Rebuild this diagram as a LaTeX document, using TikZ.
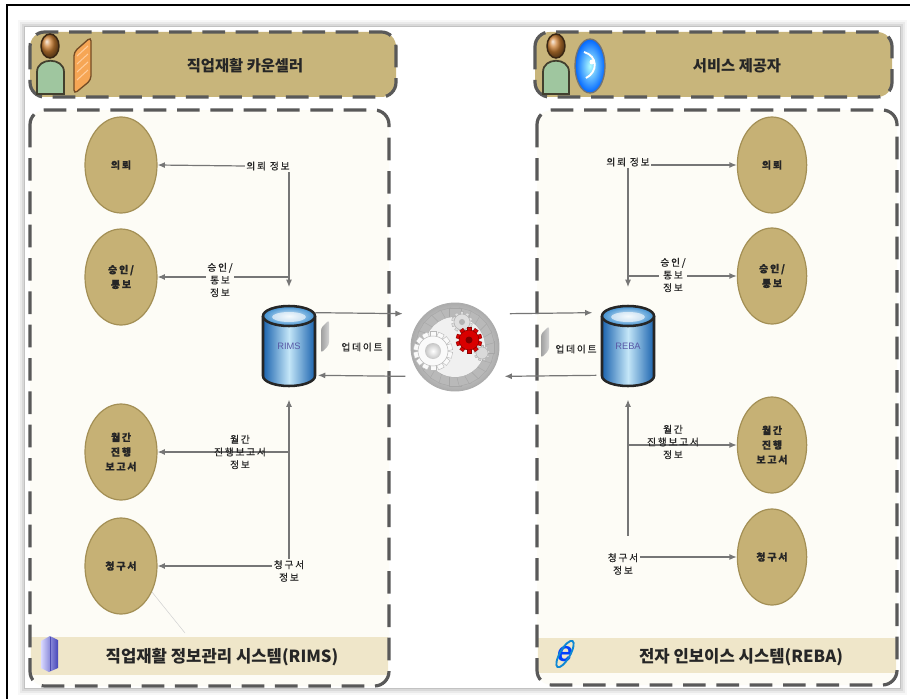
\documentclass[tikz,border=0pt]{standalone}
\usepackage{fontspec}
\setmainfont{Noto Sans CJK KR}
\newfontfamily\labfont{Noto Sans CJK KR}[LetterSpace=18, FakeBold=0.6]
\newfontfamily\latinfont{Liberation Sans}
\usetikzlibrary{shapes.geometric,arrows.meta,calc}

\definecolor{hdrtan}{HTML}{C8B57B}
\definecolor{elltan}{HTML}{C6B175}
\definecolor{ellline}{HTML}{A38F55}
\definecolor{footband}{HTML}{EFE6C9}
\definecolor{bodybg}{HTML}{FDFCF6}
\definecolor{dashgray}{HTML}{595959}
\definecolor{conngray}{HTML}{767676}
\definecolor{cyldark}{HTML}{1A63AE}
\definecolor{cyllight}{HTML}{C4E6F8}
\definecolor{cyltop}{HTML}{E4F3FB}
\definecolor{cylrim}{HTML}{3F8FD0}

% toothed wheel: centre x, centre y, radius, teeth, fill, outline
\newcommand\drawgear[6]{%
  \foreach \t in {1,...,#4}{%
    \fill[#5, draw=#6, line width=0.3pt, rotate around={\t*360/#4:(#1,#2)}]
      (#1-0.2*#3,#2-1.3*#3) rectangle (#1+0.2*#3,#2-#3+1);}
  \fill[#5, draw=#6, line width=0.4pt] (#1,#2) circle (#3);
}

% database drum: centre x, centre y
\newcommand\drawdrum[2]{%
  \shade[left color=cyldark, right color=cyldark, middle color=cyllight]
    (#1-26,#2-30) -- (#1-26,#2+30) arc[start angle=180,end angle=0,x radius=26,y radius=10]
    -- (#1+26,#2-30) arc[start angle=0,end angle=180,x radius=26,y radius=10] -- cycle;
  \draw[black!85, line width=1.9pt]
    (#1-26,#2-30) -- (#1-26,#2+30) arc[start angle=180,end angle=0,x radius=26,y radius=10]
    -- (#1+26,#2-30);
  \shade[inner color=cyltop, outer color=cylrim] (#1,#2-30) ellipse[x radius=26,y radius=10];
  \fill[white, opacity=0.6] (#1,#2-29) ellipse[x radius=17,y radius=5];
  \draw[black!85, line width=1.9pt] (#1,#2-30) ellipse[x radius=26,y radius=10];
}

\begin{document}
\begin{tikzpicture}[x=0.75pt,y=-0.75pt,
  panel/.style={draw=dashgray, line width=2.4pt, dash pattern=on 17pt off 8pt, rounded corners=11pt},
  ell/.style={ellipse, fill=elltan, draw=ellline, line width=0.9pt, minimum width=54pt,
    minimum height=72pt, inner sep=0pt, align=center,
    font=\labfont\fontsize{7.5}{11}\selectfont\bfseries, text=black!85},
  lab/.style={align=center, inner sep=1pt, font=\labfont\fontsize{7.3}{9.5}\selectfont, text=black!85},
  conn/.style={draw=conngray, line width=0.9pt, -{Latex[length=5.5pt,width=4.5pt]}},
  hdr/.style={font=\fontsize{11.5}{13}\selectfont\bfseries, text=black!85},
  ftr/.style={font=\fontsize{12.5}{14}\selectfont\bfseries, text=black!85},
  drum/.style={minimum width=39pt, minimum height=60pt, inner sep=0pt,
    font=\latinfont\fontsize{7}{8}\selectfont, text=gray!70!blue}
]
\useasboundingbox (0,0) rectangle (910,699);
\fill[white] (0,0) rectangle (910,699);

% sheet with a soft edge
\foreach \k/\op in {7/0.03,5/0.05,3/0.07,1/0.1}
  \fill[black, opacity=\op] (25-\k,27-\k) rectangle (900+\k,688+\k);
\fill[white] (25,27) rectangle (900,688);
\draw[black, line width=2.2pt] (7,699) -- (7,5) -- (910,5);

% system panels
\fill[bodybg, rounded corners=11pt] (30,110) rectangle (389,686);
\fill[footband] (31,637) rectangle (388,675);
\draw[panel] (30,110) rectangle (389,686);
\fill[bodybg, rounded corners=11pt] (537,110) rectangle (897,685);
\fill[footband] (538,638) rectangle (896,673);
\draw[panel] (537,110) rectangle (897,685);

% actor headers
\draw[panel, fill=hdrtan] (30,32) rectangle (396,97);
\draw[panel, fill=hdrtan] (535,32) rectangle (892,97);
\node[hdr] (ht1) at (245,66) {직업재활 카운셀러};
\node[hdr] (ht2) at (737,66) {서비스 제공자};
\node[ftr] (ft1) at (222,657) {직업재활 정보관리 시스템(RIMS)};
\node[ftr] (ft2) at (741,657) {전자 인보이스 시스템(REBA)};

% counsellor figure and folder
\fill[green!25!gray!60, draw=black!70!olive, line width=1.3pt]
  (37,94) -- (37,72) .. controls (37,57) and (64,57) .. (64,72) -- (64,94) -- cycle;
\draw[black!70!brown, line width=1.1pt, ball color=brown!80!orange] (50,46) ellipse[x radius=9,y radius=12];
\fill[orange!80!brown!70, draw=brown!60!black, line width=1pt, rounded corners=3pt]
  (74,94) -- (74,52) -- (91,37) -- (91,80) -- cycle;
\foreach \s in {50,58,66,74}
  \draw[orange!40, line width=0.8pt] (77,\s+6) -- (88,\s-4);

% provider figure and globe
\fill[green!25!gray!60, draw=black!70!olive, line width=1.3pt]
  (543,94) -- (543,72) .. controls (543,57) and (569,57) .. (569,72) -- (569,94) -- cycle;
\draw[black!70!brown, line width=1.1pt, ball color=brown!80!orange] (556,46) ellipse[x radius=9,y radius=12];
\shade[inner color=cyan!30!white, outer color=blue!60!cyan] (590,66) ellipse[x radius=15,y radius=27];
\draw[black!55, line width=1pt] (590,66) ellipse[x radius=15,y radius=27];
\draw[white, line width=1.4pt] (584,52) .. controls (598,56) and (598,72) .. (586,78);
\fill[white] (592,62) circle (2.5);

% footer icons
\shade[left color=blue!15, right color=blue!45!gray] (41,641) -- (50,636) -- (58,640) -- (58,668) -- (49,672) -- (41,668) -- cycle;
\draw[blue!40!gray, line width=0.5pt] (50,637) -- (50,671);
\node[text=blue!75!cyan, font=\latinfont\bfseries\itshape\fontsize{21}{21}\selectfont, inner sep=0pt] (ie) at (565,654) {e};
\draw[cyan!70!blue, line width=1.4pt, rotate around={60:(565,654)}] (565,654) ellipse[x radius=15,y radius=5];

% process engine
\coordinate (gc) at (455,347);
\shade[inner color=white, outer color=gray!65] (gc) circle (44);
\draw[gray!65, line width=0.7pt] (gc) circle (44);
\drawgear{455}{347}{30}{24}{gray!55}{gray!70}
\fill[gray!12] (gc) circle (30);
\drawgear{433}{351}{15}{14}{gray!4}{gray!55}
\shade[inner color=white, outer color=gray!45] (433,351) circle (8);
\drawgear{462}{322}{8}{10}{gray!25}{gray!60}
\fill[gray!60] (462,322) circle (3);
\drawgear{482}{353}{6}{9}{gray!30}{gray!60}
\drawgear{469}{340}{10}{10}{red!85!black}{red!55!black}
\fill[red!50!black] (469,340) circle (3.5);
\node[circle, minimum size=66pt, inner sep=0pt] (gear) at (gc) {};

% databases
\drawdrum{289}{346}
\node[drum] (rims) at (289,346) {RIMS};
\drawdrum{628}{346}
\node[drum] (reba) at (628,346) {REBA};

% update sheets
\shade[left color=gray!75, right color=gray!35, rounded corners=2pt]
  (321,353) -- (321,328) -- (329,320) -- (329,345) -- cycle;
\shade[left color=gray!75, right color=gray!35, rounded corners=2pt]
  (541,358) -- (541,334) -- (549,326) -- (549,350) -- cycle;
\node[lab] (upd1) at (362,347) {업데이트};
\node[lab] (upd2) at (576,349) {업데이트};

% task ellipses
\node[ell] (l1) at (121,165) {의뢰};
\node[ell] (l2) at (121,277) {승인/\\통보};
\node[ell] (l3) at (121,452) {월간\\진행\\보고서};
\node[ell] (l4) at (121,566) {청구서};
\node[ell, minimum width=52pt] (r1) at (772,165) {의뢰};
\node[ell, minimum width=52pt] (r2) at (772,276) {승인/\\통보};
\node[ell, minimum width=52pt] (r3) at (772,445) {월간\\진행\\보고서};
\node[ell, minimum width=52pt] (r4) at (772,557) {청구서};

% counsellor side flows
\node[lab] (lq1) at (268,166) {의뢰 정보};
\draw[conn] (lq1.west) -- (l1.east);
\draw[conn] (lq1.south -| rims) -- ([yshift=14pt]rims.north);
\coordinate (lj2) at (rims |- l2);
\draw[conn] (lj2) -- (l2.east);
\node[lab, fill=bodybg] (lq2) at (220,280) {승인/\\통보\\정보};
\coordinate (lj3) at (rims |- l3);
\draw[conn] (lj3) -- (l3.east);
\node[lab] (lq3) at (240,452) {월간\\진행보고서\\정보};
\node[lab] (lq4) at (289,571) {청구서\\정보};
\draw[conn] (lq4.west |- l4) -- (l4.east);
\draw[conn] (lq4.north) -- ([yshift=-10pt]rims.south);
\coordinate (tail) at (185,633);
\draw[gray!35, line width=0.4pt] (l4.-40) -- (tail);

% provider side flows
\node[lab] (rq1) at (628,162) {의뢰 정보};
\draw[conn] (rq1.east |- r1) -- (r1.west);
\draw[conn] (rq1.south -| reba) -- ([yshift=14pt]reba.north);
\coordinate (rj2) at (reba |- r2);
\draw[conn] (rj2) -- (r2.west);
\node[lab, fill=bodybg] (rq2) at (673,275) {승인/\\통보\\정보};
\coordinate (rj3) at (reba |- r3);
\draw[conn] (rj3) -- (r3.west);
\node[lab] (rq3) at (673,442) {월간\\진행보고서\\정보};
\node[lab] (rq4) at (623,564) {청구서\\정보};
\draw[conn] (rq4.east |- r4) -- (r4.west);
\coordinate (rv4) at ($(rq4.north -| reba)+(0,-16)$);
\draw[conn] (rv4) -- ([yshift=-10pt]reba.south);

% exchange with the engine
\draw[conn] ([yshift=25pt]rims.east) -- ([yshift=25pt,xshift=-6pt]gear.west);
\draw[conn] ([yshift=-22pt,xshift=-4pt]gear.west) -- ([yshift=-22pt,xshift=2pt]rims.east);
\draw[conn] ([yshift=25pt,xshift=8pt]gear.east) -- ([yshift=25pt,xshift=-7pt]reba.west);
\draw[conn] ([yshift=-22pt,xshift=-4pt]reba.west) -- ([yshift=-22pt,xshift=4pt]gear.east);
\end{tikzpicture}
\end{document}
